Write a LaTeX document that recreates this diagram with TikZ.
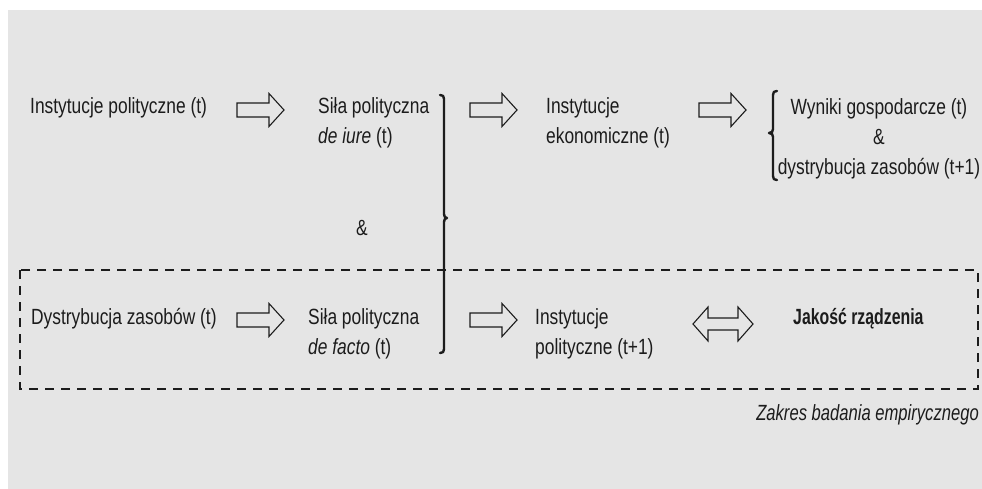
\documentclass[tikz,border=0pt]{standalone}
\usepackage{fontspec}
\setmainfont{Liberation Sans}[FakeStretch=0.79]
\newfontfamily\boldcond{Liberation Sans}[FakeStretch=0.72]
\newfontfamily\itcond{Liberation Sans}[FakeStretch=0.755]
\definecolor{bgcol}{RGB}{229,229,229}
\definecolor{inkcol}{RGB}{28,28,28}
\tikzset{
  txt/.style={inner sep=0pt, anchor=base west, text=inkcol, font=\fontsize{22}{30}\selectfont},
  arrowline/.style={draw=inkcol, line width=1.1pt, fill=bgcol, line join=miter},
  bracketline/.style={draw=inkcol, line width=2.4pt, line cap=round, line join=round},
  scopebox/.style={draw=inkcol, line width=2.4pt, dash pattern=on 9pt off 7pt},
  blockarrow/.pic={\draw[arrowline] (0,-7) -- (32,-7) -- (32,-16.5) -- (47,0) -- (32,16.5) -- (32,7) -- (0,7) -- cycle;},
  dblarrow/.pic={\draw[arrowline] (0,0) -- (15,-17) -- (15,-6) -- (45,-6) -- (45,-17) -- (60,0) -- (45,17) -- (45,6) -- (15,6) -- (15,17) -- cycle;}
}
\begin{document}
\begin{tikzpicture}[x=1pt,y=-1pt]
\useasboundingbox (0,0) rectangle (982,489);
\fill[white] (0,0) rectangle (982,489);
\fill[bgcol] (8,10) rectangle (982,489);

% dashed scope box
\draw[scopebox] (20,270) rectangle (978,389);

% row 1
\node[txt] (ip) at (30,114) {Instytucje polityczne (t)};
\pic at (237,110) {blockarrow};
\node[txt] (sdj) at (318,114) {\begin{tabular}[t]{@{}l@{}}Siła polityczna\\\textit{de iure} (t)\end{tabular}};
\pic at (470,110) {blockarrow};
\node[txt] (ie) at (546,114) {\begin{tabular}[t]{@{}l@{}}Instytucje\\ekonomiczne (t)\end{tabular}};
\pic at (699,110) {blockarrow};
\node[txt, anchor=base] (wg) at (879,115) {\begin{tabular}[t]{@{}c@{}}Wyniki gospodarcze (t)\\\&\\dystrybucja zasobów (t+1)\end{tabular}};

% right bracket
\draw[bracketline] (440,95) .. controls (443,95) and (444,96) .. (444,99) -- (444,214)
  .. controls (444,216.5) and (445,218) .. (447,218)
  .. controls (445,218) and (444,219.5) .. (444,222) -- (444,349)
  .. controls (444,352) and (443,353) .. (440,353);
% left brace
\draw[bracketline] (777,91) .. controls (774,91) and (773,92) .. (773,95) -- (773,129)
  .. controls (773,131.5) and (772,133) .. (769,133)
  .. controls (772,133) and (773,134.5) .. (773,137) -- (773,176)
  .. controls (773,179) and (774,180) .. (777,180);

\node[txt, anchor=base] (amp) at (362,236) {\&};

% row 2
\node[txt] (dz) at (31,324) {Dystrybucja zasobów (t)};
\pic at (237,320) {blockarrow};
\node[txt] (sdf) at (308,324) {\begin{tabular}[t]{@{}l@{}}Siła polityczna\\\textit{de facto} (t)\end{tabular}};
\pic at (470,320) {blockarrow};
\node[txt] (ipn) at (535,324) {\begin{tabular}[t]{@{}l@{}}Instytucje\\polityczne (t+1)\end{tabular}};
\pic at (693,324) {dblarrow};
\node[txt, font=\fontsize{22}{30}\boldcond\bfseries] (jr) at (793,324) {Jakość rządzenia};

\node[txt, anchor=base east, font=\fontsize{22}{30}\itcond\itshape] (zb) at (979,420) {Zakres badania empirycznego};
\end{tikzpicture}
\end{document}
